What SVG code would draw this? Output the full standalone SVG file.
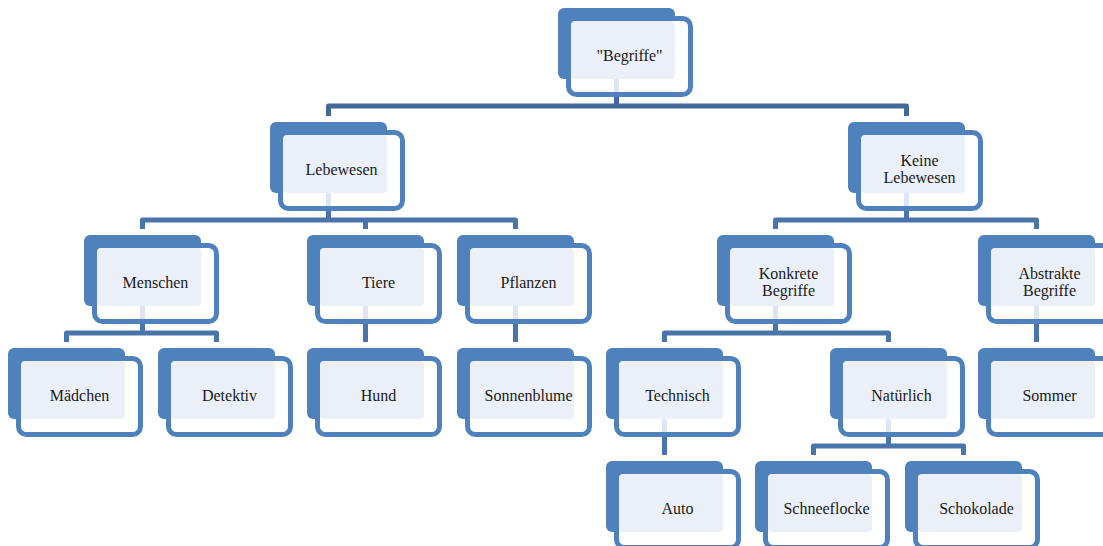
<svg xmlns="http://www.w3.org/2000/svg" xmlns:xlink="http://www.w3.org/1999/xlink" width="1103" height="546" viewBox="0 0 1103 546">
<style>
.back{fill:#4f81bd}
.frame{fill:#ffffff;stroke:#4f81bd;stroke-width:5}
.light{fill:#ebf0f8}
.stub{fill:#dde5f1}
.conn path{fill:none;stroke:#4a75ab;stroke-width:5;stroke-linejoin:round}
.conn path.top{stroke:#41699c}
text{font-family:"Liberation Serif","DejaVu Serif",serif;font-size:16px;fill:#1a1a1a;text-anchor:middle}
</style>
<defs>
<g id="node">
<rect class="back" x="0" y="0" width="117" height="71" rx="6"/>
<rect class="frame" x="10.5" y="10.5" width="122" height="76" rx="8"/>
<rect class="light" x="13" y="13" width="104" height="58" rx="4"/>
</g>
<g id="pnode">
<use xlink:href="#node"/>
<rect class="stub" x="56" y="71" width="5" height="13"/>
</g>
</defs>
<g id="connectors" class="conn">
<path class="top" d="M616.5 95 V106 M328.5 116 V106 H906.5 V116"/>
<path d="M328.5 209 V220 M142.5 229 V220 H515.5 V229 M365.5 220 V229"/>
<path d="M906.5 209 V220 M775.5 229 V220 H1036.5 V229"/>
<path d="M142.5 322 V333 M66.5 342 V333 H216.5 V342"/>
<path d="M365.5 322 V342"/>
<path d="M515.5 322 V342"/>
<path d="M775.5 322 V333 M664.5 342 V333 H888.5 V342"/>
<path d="M1036.5 322 V342"/>
<path d="M664.5 435 V455"/>
<path d="M888.5 435 V446 M813.5 455 V446 H963.5 V455"/>
</g>
<g id="n-begriffe" transform="translate(558,8)"><use xlink:href="#pnode"/><text x="71.5" y="53">"Begriffe"</text></g>
<g id="n-lebewesen" transform="translate(270,122)"><use xlink:href="#pnode"/><text x="71.5" y="53">Lebewesen</text></g>
<g id="n-keine" transform="translate(848,122)"><use xlink:href="#pnode"/><text x="71.5" y="44">Keine</text><text x="71.5" y="61">Lebewesen</text></g>
<g id="n-menschen" transform="translate(84,235)"><use xlink:href="#pnode"/><text x="71.5" y="53">Menschen</text></g>
<g id="n-tiere" transform="translate(307,235)"><use xlink:href="#pnode"/><text x="71.5" y="53">Tiere</text></g>
<g id="n-pflanzen" transform="translate(457,235)"><use xlink:href="#pnode"/><text x="71.5" y="53">Pflanzen</text></g>
<g id="n-konkrete" transform="translate(717,235)"><use xlink:href="#pnode"/><text x="71.5" y="44">Konkrete</text><text x="71.5" y="61">Begriffe</text></g>
<g id="n-abstrakte" transform="translate(978,235)"><use xlink:href="#pnode"/><text x="71.5" y="44">Abstrakte</text><text x="71.5" y="61">Begriffe</text></g>
<g id="n-maedchen" transform="translate(8,348)"><use xlink:href="#node"/><text x="71.5" y="53">Mädchen</text></g>
<g id="n-detektiv" transform="translate(158,348)"><use xlink:href="#node"/><text x="71.5" y="53">Detektiv</text></g>
<g id="n-hund" transform="translate(307,348)"><use xlink:href="#node"/><text x="71.5" y="53">Hund</text></g>
<g id="n-sonnenblume" transform="translate(457,348)"><use xlink:href="#node"/><text x="71.5" y="53">Sonnenblume</text></g>
<g id="n-technisch" transform="translate(606,348)"><use xlink:href="#pnode"/><text x="71.5" y="53">Technisch</text></g>
<g id="n-natuerlich" transform="translate(830,348)"><use xlink:href="#pnode"/><text x="71.5" y="53">Natürlich</text></g>
<g id="n-sommer" transform="translate(978,348)"><use xlink:href="#node"/><text x="71.5" y="53">Sommer</text></g>
<g id="n-auto" transform="translate(606,461)"><use xlink:href="#node"/><text x="71.5" y="53">Auto</text></g>
<g id="n-schneeflocke" transform="translate(755,461)"><use xlink:href="#node"/><text x="71.5" y="53">Schneeflocke</text></g>
<g id="n-schokolade" transform="translate(905,461)"><use xlink:href="#node"/><text x="71.5" y="53">Schokolade</text></g>
</svg>
